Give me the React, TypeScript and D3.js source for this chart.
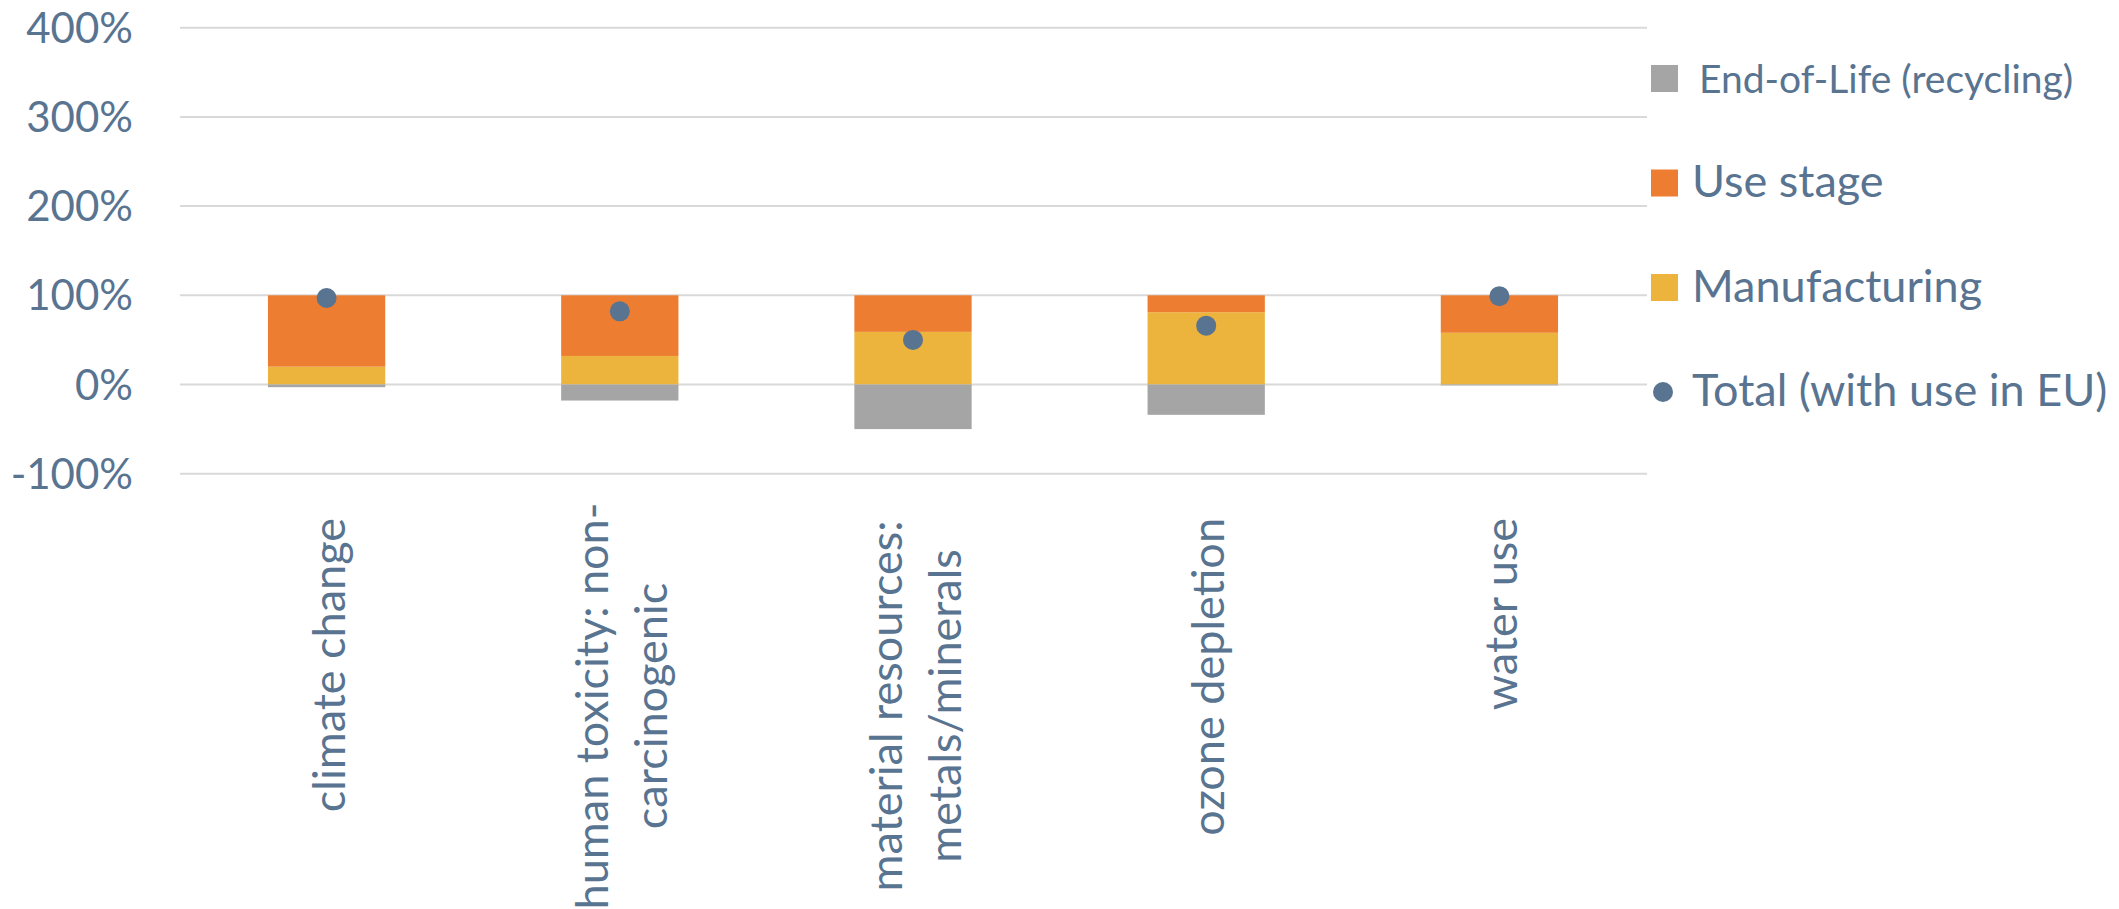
import React from "react";
import * as d3 from "d3";

const categories = [
  "climate change",
  "human toxicity: non-carcinogenic",
  "material resources: metals/minerals",
  "ozone depletion",
  "water use",
];
const categoryLines = [
  ["climate change"],
  ["human toxicity: non-", "carcinogenic"],
  ["material resources:", "metals/minerals"],
  ["ozone depletion"],
  ["water use"],
];
const manufacturing = [20, 32, 59, 81, 58];
const useStage = [80, 68, 41, 19, 42];
const endOfLife = [-3, -18, -50, -34, -1];
const total = [97, 82, 50, 66, 99];
const yTicks = [-100, 0, 100, 200, 300, 400];

const legendItems = [
  { label: "End-of-Life (recycling)", color: "#A5A5A5", kind: "rect", small: true },
  { label: "Use stage", color: "#ED7D31", kind: "rect", small: false },
  { label: "Manufacturing", color: "#ECB43C", kind: "rect", small: false },
  { label: "Total (with use in EU)", color: "#587491", kind: "dot", small: false },
];

const TEXT = "#587491";
const FONT = "Lato, 'Open Sans', sans-serif";

export default function App() {
  const W = 2119;
  const H = 909;
  const x = d3
    .scaleBand<string>()
    .domain(categories)
    .range([180, 1646])
    .paddingInner(0.6)
    .paddingOuter(0.3);
  const y = d3.scaleLinear().domain([-100, 400]).range([473.7, 27.7]);

  const rows = categories.map((c, i) => ({
    cat: c,
    manufacturing: manufacturing[i],
    use: useStage[i],
    eol: endOfLife[i],
  }));
  const keys = ["manufacturing", "use", "eol"];
  const colors: Record<string, string> = {
    manufacturing: "#ECB43C",
    use: "#ED7D31",
    eol: "#A5A5A5",
  };
  const stacked = d3
    .stack<any>()
    .keys(keys)
    .offset(d3.stackOffsetDiverging)(rows);

  const gridX1 = 180;
  const gridX2 = 1647;

  return (
    <svg
      width={W}
      height={H}
      style={{ position: "absolute", left: 0, top: 0, background: "#fff" }}
      fontFamily={FONT}
    >
      {yTicks.map((t) => (
        <g key={t}>
          <line
            x1={gridX1}
            x2={gridX2}
            y1={y(t)}
            y2={y(t)}
            stroke="#D9D9D9"
            strokeWidth={2}
          />
          <text
            x={133}
            y={y(t) + 15}
            textAnchor="end"
            fontSize={42}
            fill={TEXT}
          >
            {t + "%"}
          </text>
        </g>
      ))}
      {stacked.map((s) => (
        <g key={s.key} fill={colors[s.key]}>
          {s.map((d, i) => {
            const y0 = Math.min(y(d[0]), y(d[1]));
            const y1 = Math.max(y(d[0]), y(d[1]));
            return (
              <rect
                key={i}
                x={x(categories[i])}
                width={x.bandwidth()}
                y={y0}
                height={y1 - y0}
              />
            );
          })}
        </g>
      ))}
      {total.map((v, i) => (
        <circle
          key={i}
          cx={(x(categories[i]) as number) + x.bandwidth() / 2}
          cy={y(v)}
          r={10}
          fill="#587491"
        />
      ))}
      {categoryLines.map((lines, i) => {
        const cx = (x(categories[i]) as number) + x.bandwidth() / 2;
        const n = lines.length;
        const lineGap = 59;
        return (
          <g key={i}>
            {lines.map((ln, j) => {
              const bx = cx + 18 + (j - (n - 1) / 2) * lineGap;
              const by = n > 1 ? 706 : 518;
              return (
                <text
                  key={j}
                  transform={`translate(${bx},${by}) rotate(-90)`}
                  textAnchor={n > 1 ? "middle" : "end"}
                  fontSize={45}
                  fill={TEXT}
                >
                  {ln}
                </text>
              );
            })}
          </g>
        );
      })}
      {legendItems.map((it, i) => {
        const cy = 78.5 + i * 104.5;
        return (
          <g key={it.label}>
            {it.kind === "rect" ? (
              <rect x={1651} y={cy - 13.5} width={27} height={27} fill={it.color} />
            ) : (
              <circle cx={1663} cy={cy} r={10} fill={it.color} />
            )}
            <text
              x={it.small ? 1699 : 1692}
              y={cy + 14}
              fontSize={it.small ? 39 : 45}
              fill={TEXT}
            >
              {it.label}
            </text>
          </g>
        );
      })}
    </svg>
  );
}
